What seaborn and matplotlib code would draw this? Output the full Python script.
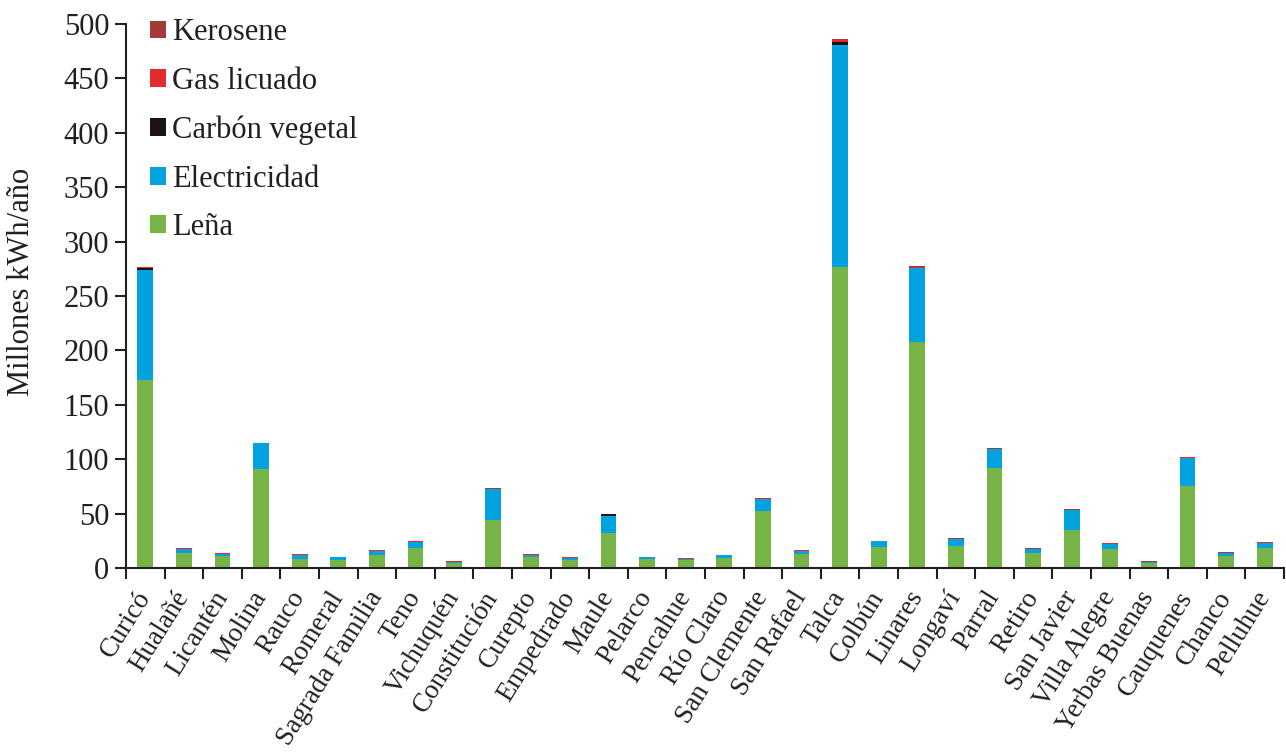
import numpy as np
import pandas as pd
import matplotlib
matplotlib.use("Agg")
import matplotlib.pyplot as plt
import seaborn as sns
from matplotlib.patches import Patch

comunas = ["Curicó", "Hualañé", "Licantén", "Molina", "Rauco", "Romeral",
           "Sagrada Familia", "Teno", "Vichuquén", "Constitución", "Curepto",
           "Empedrado", "Maule", "Pelarco", "Pencahue", "Río Claro",
           "San Clemente", "San Rafael", "Talca", "Colbún", "Linares",
           "Longaví", "Parral", "Retiro", "San Javier", "Villa Alegre",
           "Yerbas Buenas", "Cauquenes", "Chanco", "Pelluhue"]

lena = [173, 14, 10.7, 91, 8.6, 7.3, 12, 18.1, 4.3, 44, 10.1, 7.4, 32.2, 8.3,
        7.0, 9.5, 52.4, 13.2, 277, 19.4, 208, 20, 92, 13.8, 35.2, 17.1, 4.6,
        75.6, 11.2, 18.4]
electricidad = [101, 3.4, 2.2, 23.6, 3.7, 2.5, 3.6, 6.1, 1.2, 28.2, 1.8, 1.8,
                15.9, 1.5, 1.3, 2.1, 11, 2.4, 204, 5.2, 67.8, 6.3, 17, 3.3, 18,
                5, 0.7, 25.9, 2.3, 4.6]
carbon = [1.5, 0.05, 0.05, 0.05, 0.05, 0.05, 0.05, 0.05, 0.05, 0.05, 0.05,
          0.05, 1.2, 0.05, 0.05, 0.05, 0.05, 0.05, 2.3, 0.05, 0.2, 0.05, 0.05,
          0.05, 0.05, 0.05, 0.05, 0.05, 0.05, 0.05]
gas = [0.8, 0.6, 0.5, 0.4, 0.4, 0.4, 0.6, 0.4, 0.5, 0.6, 0.6, 0.5, 0.4, 0.3,
       0.5, 0.4, 0.7, 0.6, 2.2, 0.4, 0.8, 0.6, 0.6, 0.6, 0.4, 0.5, 0.5, 0.4,
       0.6, 0.5]
kerosene = [0.6, 0.3, 0.3, 0.2, 0.2, 0.2, 0.3, 0.2, 0.3, 0.3, 0.3, 0.3, 0.3,
            0.2, 0.3, 0.2, 0.4, 0.3, 0.6, 0.2, 0.4, 0.3, 0.3, 0.3, 0.2, 0.3,
            0.3, 0.2, 0.4, 0.3]

series_names = ["Leña", "Electricidad", "Carbón vegetal", "Gas licuado", "Kerosene"]
series_vals = [lena, electricidad, carbon, gas, kerosene]
colors = ["#76B447", "#00A3DF", "#1C1412", "#E32A2F", "#A33A36"]

sns.set_theme(style="white")
plt.rcParams["font.family"] = ["Liberation Serif", "DejaVu Serif"]

FS = 22
TXT = "#231F20"

fig = plt.figure(figsize=(12.86, 7.53), dpi=100)
ax = fig.add_axes([0.098, 0.2457, 0.9005, 0.7223])

cum = np.zeros(len(comunas))
cums = []
for v in series_vals:
    cum = cum + np.array(v, dtype=float)
    cums.append(cum.copy())

# draw from the top layer down so each cumulative bar overlays the previous
for i in range(len(series_vals) - 1, -1, -1):
    d = pd.DataFrame({"comuna": comunas, "valor": cums[i]})
    sns.barplot(data=d, x="comuna", y="valor", color=colors[i], width=0.41,
                saturation=1, ax=ax, linewidth=0, order=comunas)

ax.set_xlim(-0.5, len(comunas) - 0.5)
ax.set_ylim(0, 500)
ax.set_yticks(np.arange(0, 501, 50))
ax.set_xlabel("")
ax.set_ylabel("Millones kWh/año", fontsize=FS, color=TXT)
ax.yaxis.set_label_coords(-0.078, 0.526)

for s in ["top", "right"]:
    ax.spines[s].set_visible(False)
for s in ["left", "bottom"]:
    ax.spines[s].set_color(TXT)
    ax.spines[s].set_linewidth(1.5)

ax.tick_params(axis="y", which="major", direction="out", length=8, width=1.5,
               color=TXT, labelsize=FS, labelcolor=TXT, left=True, pad=4)
ax.set_xticks(np.arange(len(comunas)))
ax.set_xticklabels(comunas, rotation=58, ha="right", va="center",
                   rotation_mode="anchor", fontsize=19.5, color=TXT)
ax.tick_params(axis="x", which="major", length=0, pad=18)
ax.set_xticks(np.arange(-0.5, len(comunas)), minor=True)
ax.tick_params(axis="x", which="minor", direction="out", length=8, width=1.5,
               color=TXT, bottom=True)

handles = [Patch(facecolor=colors[i], edgecolor="none", label=series_names[i])
           for i in range(len(series_names) - 1, -1, -1)]
leg = ax.legend(handles=handles, loc="upper left", bbox_to_anchor=(0.0104, 1.033),
                frameon=False, fontsize=FS, handlelength=0.52, handleheight=0.52,
                handletextpad=0.2, labelspacing=0.64, borderaxespad=0.0)
for t in leg.get_texts():
    t.set_color(TXT)

fig.savefig("out.png", dpi=100)
